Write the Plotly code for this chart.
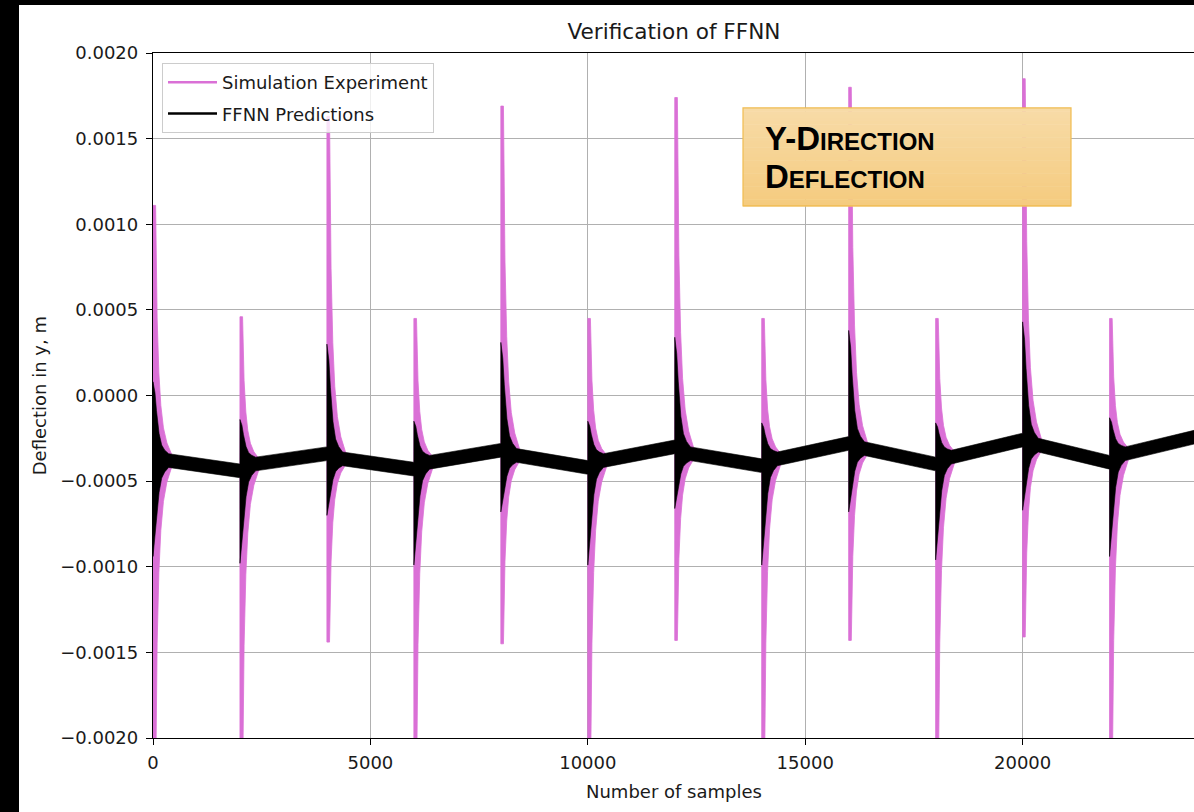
import plotly.graph_objects as go

# ---- data -------------------------------------------------------------
# sample index of each excitation spike
spikes = [0, 2000, 4000, 6000, 8000, 10000, 12000, 14000, 16000, 18000, 20000, 22000]
last_sample = 24000

# simulation experiment: extreme deflection reached at each spike (m)
sim_peak_high = [0.00111, 0.00046, 0.00163, 0.00045, 0.00169, 0.00045,
                 0.00174, 0.00045, 0.00180, 0.00045, 0.00185, 0.00045]
sim_peak_low = [-0.0023, -0.0023, -0.00144, -0.0023, -0.00145, -0.0023,
                -0.00143, -0.0023, -0.00143, -0.0023, -0.00141, -0.0023]

# FFNN predictions: extreme deflection reached at each spike (m)
nn_peak_high = [0.00008, -0.00014, 0.00030, -0.00015, 0.00031, -0.00015,
                0.00034, -0.00016, 0.00038, -0.00016, 0.00043, -0.00013]
nn_peak_low = [-0.00094, -0.00098, -0.00070, -0.00099, -0.00068, -0.00099,
               -0.00066, -0.00099, -0.00068, -0.00096, -0.00067, -0.00094]

# mean deflection once the ringing has died out, and just before the next spike
band_start = [-0.00038, -0.00040, -0.00037, -0.00039, -0.00035, -0.00038,
              -0.00034, -0.00037, -0.00031, -0.00036, -0.00029, -0.00034]
band_end = [-0.00044, -0.00034, -0.00043, -0.00032, -0.00042, -0.00030,
            -0.00041, -0.00028, -0.00040, -0.00026, -0.00039, -0.00024]

# half amplitude of the steady vibration (m)
sim_half_width = 0.00003
nn_half_width = 0.00004

# ringing envelope after a spike: samples after the spike -> share of peak left
sim_decay_offsets = [0, 60, 95, 135, 180, 240, 320, 440]
sim_decay_share = [1.0, 1.0, 0.55, 0.33, 0.2, 0.11, 0.05, 0.0]
nn_decay_offsets = [0, 45, 80, 140, 200, 270, 360]
nn_decay_share = [1.0, 0.85, 0.6, 0.28, 0.12, 0.05, 0.0]

# axis ticks
y_ticks = [-0.0020, -0.0015, -0.0010, -0.0005, 0.0, 0.0005, 0.0010, 0.0015, 0.0020]
x_ticks = [0, 5000, 10000, 15000, 20000]

SIM_COLOR = "#DA70D6"
NN_COLOR = "#000000"
FONT = "DejaVu Sans"
TEXT_COLOR = "#1a1a1a"


def envelope(peaks, offsets, shares, half, sign):
    xs, ys = [], []
    for k, x0 in enumerate(spikes):
        settled = band_start[k] + sign * half
        for off, share in zip(offsets, shares):
            xs.append(x0 + off)
            ys.append(settled + share * (peaks[k] - settled))
        nxt = spikes[k + 1] - 1 if k + 1 < len(spikes) else last_sample
        xs.append(nxt)
        ys.append(band_end[k] + sign * half)
    return xs, ys


def band_polygon(high, low, offsets, shares, half):
    xu, yu = envelope(high, offsets, shares, half, +1)
    xl, yl = envelope(low, offsets, shares, half, -1)
    return xu + xl[::-1] + [xu[0]], yu + yl[::-1] + [yu[0]]


fig = go.Figure()

sx, sy = band_polygon(sim_peak_high, sim_peak_low, sim_decay_offsets, sim_decay_share, sim_half_width)
nx, ny = band_polygon(nn_peak_high, nn_peak_low, nn_decay_offsets, nn_decay_share, nn_half_width)

fig.add_trace(go.Scatter(x=sx, y=sy, mode="lines", fill="toself", fillcolor=SIM_COLOR,
                         line=dict(color=SIM_COLOR, width=0.8), showlegend=False, hoverinfo="skip"))
fig.add_trace(go.Scatter(x=nx, y=ny, mode="lines", fill="toself", fillcolor=NN_COLOR,
                         line=dict(color=NN_COLOR, width=0.6), showlegend=False, hoverinfo="skip"))

# legend entries drawn as plain line samples
fig.add_trace(go.Scatter(x=[None], y=[None], mode="lines", name="Simulation Experiment",
                         line=dict(color=SIM_COLOR, width=2.5), legendgroup="a"))
fig.add_trace(go.Scatter(x=[None], y=[None], mode="lines", name="FFNN Predictions",
                         line=dict(color=NN_COLOR, width=2.5), legendgroup="b"))

W, H = 1194, 812
ML, MT, MB = 153, 53, 73.5
PW = W - ML
PH = H - MT - MB


def px_x(px):
    return (px - ML) / PW


def px_y(py):
    return (H - MB - py) / PH


shapes = [dict(type="rect", xref="paper", yref="paper", x0=px_x(19), x1=1.1,
               y0=-0.3, y1=px_y(5), fillcolor="white", line=dict(width=0), layer="below")]

# orange label box with a soft vertical gradient
bx0, bx1, by0, by1 = 743, 1071, 108, 206
top_rgb = (247, 219, 167)
bot_rgb = (245, 203, 127)
n_bands = 30
for i in range(n_bands):
    t = i / (n_bands - 1)
    c = tuple(round(a + (b - a) * t) for a, b in zip(top_rgb, bot_rgb))
    ya = by0 + (by1 - by0) * i / n_bands
    yb = by0 + (by1 - by0) * (i + 1) / n_bands
    shapes.append(dict(type="rect", xref="paper", yref="paper",
                       x0=px_x(bx0), x1=px_x(bx1), y0=px_y(yb + 0.5), y1=px_y(ya),
                       fillcolor="rgb(%d,%d,%d)" % c, line=dict(width=0), layer="above"))
shapes.append(dict(type="rect", xref="paper", yref="paper",
                   x0=px_x(bx0), x1=px_x(bx1), y0=px_y(by1), y1=px_y(by0),
                   fillcolor="rgba(0,0,0,0)", line=dict(color="rgb(240,188,80)", width=1.2),
                   layer="above"))

annotations = [
    dict(text="Number of samples", xref="paper", yref="paper", x=px_x(674), y=px_y(792),
         showarrow=False, xanchor="center", yanchor="middle",
         font=dict(family=FONT, size=18, color=TEXT_COLOR)),
    dict(text="Deflection in y, m", xref="paper", yref="paper", x=px_x(39), y=px_y(396.5),
         showarrow=False, xanchor="center", yanchor="middle", textangle=-90,
         font=dict(family=FONT, size=18, color=TEXT_COLOR)),
    dict(text="<b><span style='font-size:33px'>Y-D</span><span style='font-size:24px'>IRECTION</span>"
              "<br><span style='font-size:33px'>D</span><span style='font-size:24px'>EFLECTION</span></b>",
         xref="paper", yref="paper", x=px_x(763), y=px_y(158), showarrow=False,
         xanchor="left", yanchor="middle", align="left",
         font=dict(family="Liberation Sans", size=29, color="black")),
]

fig.update_layout(
    width=W, height=H,
    margin=dict(l=ML, r=0, t=MT, b=MB, pad=0),
    paper_bgcolor="black",
    plot_bgcolor="white",
    font=dict(family=FONT, size=18, color=TEXT_COLOR),
    title=dict(text="Verification of FFNN", x=px_x(674), xref="paper", xanchor="center",
               y=1 - 31 / H, yanchor="middle", font=dict(family=FONT, size=21.6, color=TEXT_COLOR)),
    showlegend=True,
    legend=dict(x=px_x(162), y=px_y(63), xanchor="left", yanchor="top",
                bgcolor="rgba(255,255,255,0.8)", bordercolor="#cccccc", borderwidth=1,
                font=dict(family=FONT, size=18, color=TEXT_COLOR), tracegroupgap=5,
                itemwidth=49, traceorder="grouped"),
    shapes=shapes,
    annotations=annotations,
)

fig.update_xaxes(range=[0, PW / (217.4 / 5000)], tickvals=x_ticks, tickformat="d",
                 showgrid=True, gridcolor="#b0b0b0", gridwidth=1,
                 showline=True, linecolor="black", linewidth=1.3, mirror=True,
                 ticks="outside", ticklen=6, tickwidth=1.3, tickcolor="black",
                 ticklabelstandoff=2,
                 zeroline=False, tickfont=dict(family=FONT, size=18, color=TEXT_COLOR))
fig.update_yaxes(range=[-0.002, 0.002], tickvals=y_ticks, tickformat=".4f",
                 showgrid=True, gridcolor="#b0b0b0", gridwidth=1,
                 showline=True, linecolor="black", linewidth=1.3, mirror=False,
                 ticks="outside", ticklen=6, tickwidth=1.3, tickcolor="black",
                 ticklabelstandoff=4,
                 zeroline=False, tickfont=dict(family=FONT, size=18, color=TEXT_COLOR))

fig.write_html("out.html")
